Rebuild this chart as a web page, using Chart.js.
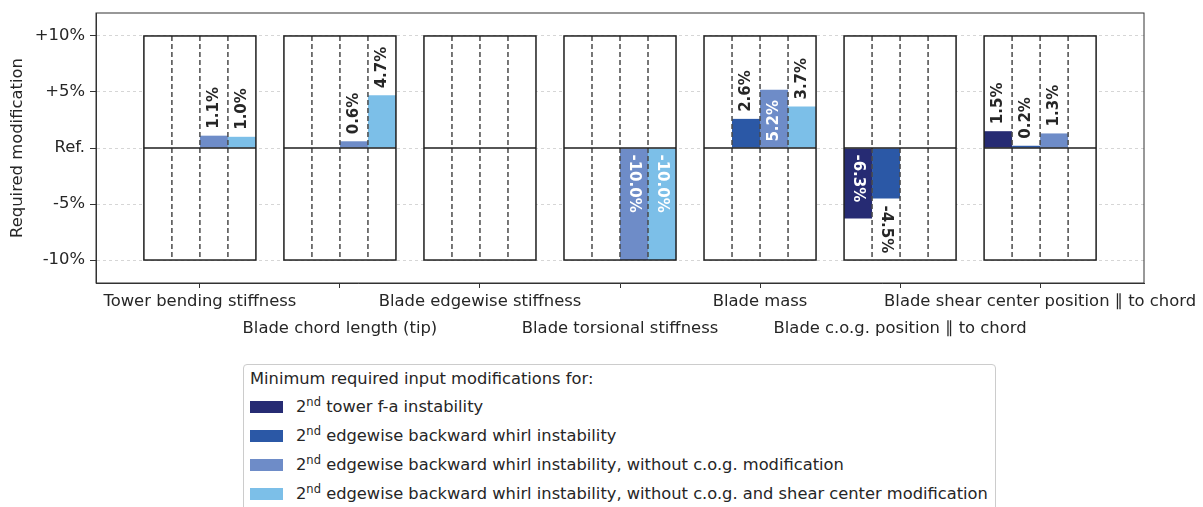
<!DOCTYPE html>
<html>
<head>
    <title>Required modifications</title>
    <style>
        html, body {
            margin: 0;
            padding: 0;
            width: 1203px;
            height: 507px;
            overflow: hidden;
            background-color: #ffffff;
            font-family: 'DejaVu Sans', sans-serif;
        }
        #chart-container {
            position: absolute;
            left: 0;
            top: 0;
            width: 1203px;
            height: 355px;
        }
        #legend {
            position: absolute;
            left: 243px;
            top: 364px;
            width: 753px;
            height: 170px;
            box-sizing: border-box;
            padding: 0 6px;
            border: 1px solid #cccccc;
            border-radius: 4px;
            background-color: #ffffff;
            color: #262626;
            font-size: 16.3px;
            white-space: nowrap;
        }
        .legend-title {
            height: 27px;
            line-height: 27px;
        }
        .legend-row {
            height: 29px;
            display: flex;
            align-items: center;
        }
        .swatch {
            width: 33px;
            height: 12px;
            margin-right: 13px;
            flex: none;
        }
        sup {
            font-size: 11.5px;
            line-height: 0;
            vertical-align: 6px;
        }
    </style>
</head>
<body>
<div id="chart-container">
    <canvas id="chart"></canvas>
</div>
<div id="legend"></div>
<script src="https://cdn.jsdelivr.net/npm/chart.js"></script>
<script>
    // Input parameters that were modified
    const categories = [
      'Tower bending stiffness',
      'Blade chord length (tip)',
      'Blade edgewise stiffness',
      'Blade torsional stiffness',
      'Blade mass',
      'Blade c.o.g. position \u2225 to chord',
      'Blade shear center position \u2225 to chord',
    ];

    // Minimum required modification in % per instability case (null = not needed)
    const towerFa = [null, null, null, null, null, -6.3, 1.5];
    const edgewiseBw = [null, null, null, null, 2.6, -4.5, 0.2];
    const edgewiseBwNoCog = [1.1, 0.6, null, -10.0, 5.2, null, 1.3];
    const edgewiseBwNoCogShear = [1.0, 4.7, null, -10.0, 3.7, null, null];

    const seriesLabels = [
      '2nd tower f-a instability',
      '2nd edgewise backward whirl instability',
      '2nd edgewise backward whirl instability, without c.o.g. modification',
      '2nd edgewise backward whirl instability, without c.o.g. and shear center modification',
    ];
    const seriesColors = ['#262b73', '#2b58a6', '#6e8cc8', '#7cbfe8'];
    const legendTitle = 'Minimum required input modifications for:';

    const yTickValues = [-10, -5, 0, 5, 10];
    const yTickLabels = ['-10%', '-5%', 'Ref.', '+5%', '+10%'];
    const boxRange = [-10, 10]; // allowed modification range drawn as a frame

    const seriesValues = [towerFa, edgewiseBw, edgewiseBwNoCog, edgewiseBwNoCogShear];
    const FONT = 'DejaVu Sans';
    const TEXT = '#262626';
    const CAT_PCT = 0.8;

    // White frame per category with dashed slot dividers and the Ref. line
    const boxPlugin = {
      id: 'categoryBoxes',
      beforeDatasetsDraw(chart) {
        const {ctx, scales: {x, y}} = chart;
        const top = y.getPixelForValue(boxRange[1]);
        const bottom = y.getPixelForValue(boxRange[0]);
        ctx.save();
        ctx.fillStyle = '#ffffff';
        categories.forEach((c, i) => {
          const l = x.getPixelForValue(i - CAT_PCT / 2);
          const r = x.getPixelForValue(i + CAT_PCT / 2);
          ctx.fillRect(l, top, r - l, bottom - top);
        });
        ctx.restore();
      },
      afterDatasetsDraw(chart) {
        const {ctx, chartArea, scales: {x, y}} = chart;
        const top = y.getPixelForValue(boxRange[1]);
        const bottom = y.getPixelForValue(boxRange[0]);
        const zero = y.getPixelForValue(0);
        const slot = CAT_PCT / seriesValues.length;
        ctx.save();
        // dashed dividers between the bar slots
        ctx.strokeStyle = '#4a4a4a';
        ctx.lineWidth = 1.5;
        ctx.setLineDash([5, 3]);
        categories.forEach((c, i) => {
          for (let k = 1; k < seriesValues.length; k++) {
            const px = x.getPixelForValue(i - CAT_PCT / 2 + k * slot);
            ctx.beginPath();
            ctx.moveTo(px, top);
            ctx.lineTo(px, bottom);
            ctx.stroke();
          }
        });
        // solid outline and zero line
        ctx.setLineDash([]);
        ctx.strokeStyle = '#1e1e1e';
        categories.forEach((c, i) => {
          const l = x.getPixelForValue(i - CAT_PCT / 2);
          const r = x.getPixelForValue(i + CAT_PCT / 2);
          ctx.strokeRect(l, top, r - l, bottom - top);
          ctx.beginPath();
          ctx.moveTo(l, zero);
          ctx.lineTo(r, zero);
          ctx.stroke();
        });
        // plot frame
        ctx.strokeStyle = '#333333';
        ctx.lineWidth = 1;
        ctx.strokeRect(chartArea.left, chartArea.top, chartArea.right - chartArea.left, chartArea.bottom - chartArea.top);
        ctx.restore();
      }
    };

    // Rotated value labels, inside the bar for values beyond +-5 %
    const valueLabelPlugin = {
      id: 'valueLabels',
      afterDatasetsDraw(chart) {
        const ctx = chart.ctx;
        chart.data.datasets.forEach((ds, di) => {
          chart.getDatasetMeta(di).data.forEach((bar, i) => {
            const v = ds.data[i];
            if (v === null || v === undefined) return;
            const inside = Math.abs(v) > 5;
            const up = v > 0;
            const yPos = inside ? bar.base + (up ? -6 : 6) : bar.y + (up ? -7 : 7);
            ctx.save();
            ctx.font = 'bold 15px "' + FONT + '"';
            ctx.textBaseline = 'middle';
            ctx.textAlign = 'left';
            ctx.fillStyle = inside ? '#ffffff' : TEXT;
            ctx.translate(bar.x, yPos);
            ctx.rotate(up ? -Math.PI / 2 : Math.PI / 2);
            ctx.fillText(v.toFixed(1) + '%', 0, 0);
            ctx.restore();
          });
        });
      }
    };

    const ctx = document.getElementById('chart').getContext('2d');
    const chart = new Chart(ctx, {
      type: 'bar',
      data: {
        labels: categories.map((c, i) => i),
        datasets: seriesValues.map((vals, i) => ({
          label: seriesLabels[i],
          data: vals,
          backgroundColor: seriesColors[i],
          borderWidth: 0,
          categoryPercentage: CAT_PCT,
          barPercentage: 1,
        })),
      },
      options: {
        responsive: true,
        maintainAspectRatio: false,
        animation: false,
        layout: {
          padding: { top: 13, right: 59, left: 0, bottom: 0 },
        },
        plugins: {
          legend: { display: false },
          tooltip: { enabled: false },
        },
        scales: {
          x: {
            type: 'linear',
            offset: false,
            min: -0.742,
            max: categories.length - 1 + 0.742,
            afterBuildTicks: (s) => { s.ticks = categories.map((c, i) => ({ value: i })); },
            afterFit: (s) => { s.height = 72; s.paddingLeft = 0; s.paddingRight = 0; },
            ticks: {
              autoSkip: false,
              maxRotation: 0,
              minRotation: 0,
              padding: 0,
              color: TEXT,
              font: { family: FONT, size: 16.4, lineHeight: 1.65 },
              // alternate labels go to a second row
              callback: (v, i) => (i % 2 ? ['', categories[i]] : categories[i]),
            },
            grid: {
              offset: false,
              drawOnChartArea: false,
              drawTicks: true,
              tickLength: 5,
              tickColor: '#333333',
              tickWidth: 1,
            },
            border: { display: true, color: '#333333', width: 1 },
          },
          y: {
            min: -12.05,
            max: 12.05,
            afterBuildTicks: (s) => { s.ticks = yTickValues.map((v) => ({ value: v })); },
            afterFit: (s) => { s.width = 96; s.paddingTop = 0; s.paddingBottom = 0; },
            ticks: {
              padding: 5,
              color: TEXT,
              font: { family: FONT, size: 16.4 },
              callback: (v, i) => yTickLabels[i],
            },
            grid: {
              color: '#cccccc',
              lineWidth: 0.8,
              tickLength: 6,
              tickColor: '#333333',
              tickWidth: 1,
            },
            border: { display: true, color: '#333333', width: 1, dash: [3, 3] },
            title: {
              display: true,
              text: 'Required modification',
              color: TEXT,
              font: { family: FONT, size: 16.4 },
              padding: { top: 8, bottom: 0 },
            },
          },
        },
      },
      plugins: [boxPlugin, valueLabelPlugin],
    });

    // Legend with superscript ordinals
    const legendEl = document.getElementById('legend');
    legendEl.innerHTML = '<div class="legend-title">' + legendTitle + '</div>' +
      seriesLabels.map((s, i) =>
        '<div class="legend-row"><span class="swatch" style="background:' + seriesColors[i] + '"></span><span>' +
        s.replace(/^(\d+)(st|nd|rd|th)/, '$1<sup>$2</sup>') + '</span></div>'
      ).join('');
</script>
</body>
</html>
